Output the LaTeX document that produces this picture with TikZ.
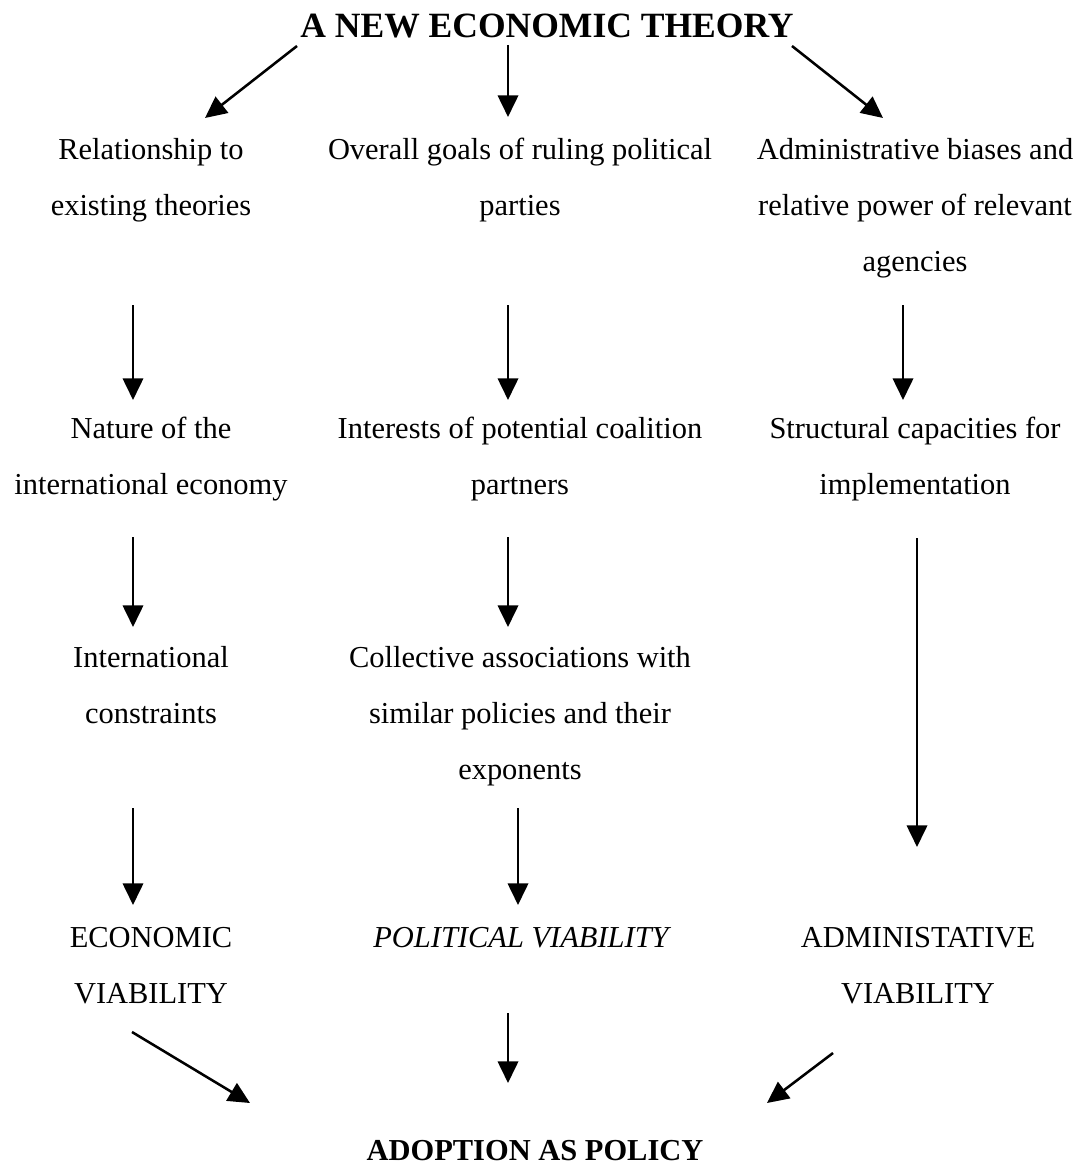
\documentclass[tikz,border=0pt]{standalone}
\usepackage{fontspec}
\setmainfont{Liberation Serif}
\usetikzlibrary{arrows.meta}
\begin{document}
\begin{tikzpicture}[x=0.394pt, y=-0.394pt]
\tikzstyle{t} = [align=center, anchor=north, inner sep=0pt, font=\fontsize{12}{22}\selectfont]
\tikzstyle{h} = [anchor=base, inner sep=0pt, font=\fontsize{14}{17}\selectfont\bfseries]
\tikzstyle{e} = [draw=black, line width=1pt, -{Triangle[length=8.5pt,width=8pt]}]

\useasboundingbox (0,0) rectangle (1082,1173);

\node[h] (T) at (547,38) {A NEW ECONOMIC THEORY};

\node[t] (R) at (151,138) {Relationship to\\existing theories};
\node[t] (G) at (520,138) {Overall goals of ruling political\\parties};
\node[t] (B) at (915,138) {Administrative biases and\\relative power of relevant\\agencies};

\node[t] (N) at (151,417) {Nature of the\\international economy};
\node[t] (I) at (520,417) {Interests of potential coalition\\partners};
\node[t] (S) at (915,417) {Structural capacities for\\implementation};

\node[t] (C) at (151,646) {International\\constraints};
\node[t] (A) at (520,646) {Collective associations with\\similar policies and their\\exponents};

\node[t] (EV) at (151,927) {ECONOMIC\\VIABILITY};
\node[t] (PV) at (521,927) {\itshape POLITICAL VIABILITY};
\node[t] (AV) at (918,927) {ADMINISTATIVE\\VIABILITY};

\node[h, font=\fontsize{12}{14}\selectfont\bfseries] (P) at (535,1160) {ADOPTION AS POLICY};

% arrow ends
\coordinate (t1) at (297,46);  \coordinate (t1') at (205,118);
\coordinate (t2) at (508,45);  \coordinate (t2') at (508,117);
\coordinate (t3) at (792,46);  \coordinate (t3') at (883,118);
\coordinate (a1) at (133,305); \coordinate (a1') at (133,400);
\coordinate (a2) at (508,305); \coordinate (a2') at (508,400);
\coordinate (a3) at (903,305); \coordinate (a3') at (903,400);
\coordinate (b1) at (133,537); \coordinate (b1') at (133,627);
\coordinate (b2) at (508,537); \coordinate (b2') at (508,627);
\coordinate (b3) at (917,538); \coordinate (b3') at (917,847);
\coordinate (c1) at (133,808); \coordinate (c1') at (133,905);
\coordinate (c2) at (518,808); \coordinate (c2') at (518,905);
\coordinate (d1) at (132,1032); \coordinate (d1') at (250,1103);
\coordinate (d2) at (508,1013); \coordinate (d2') at (508,1083);
\coordinate (d3) at (833,1053); \coordinate (d3') at (767,1103);

\draw[e] (t1) to (t1');
\draw[e] (t2) to (t2');
\draw[e] (t3) to (t3');
\draw[e] (a1) to (a1');
\draw[e] (a2) to (a2');
\draw[e] (a3) to (a3');
\draw[e] (b1) to (b1');
\draw[e] (b2) to (b2');
\draw[e] (b3) to (b3');
\draw[e] (c1) to (c1');
\draw[e] (c2) to (c2');
\draw[e] (d1) to (d1');
\draw[e] (d2) to (d2');
\draw[e] (d3) to (d3');
\end{tikzpicture}
\end{document}
